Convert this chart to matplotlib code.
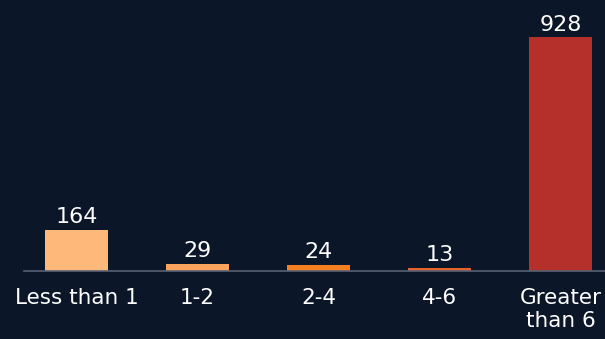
import matplotlib
matplotlib.use("Agg")
import matplotlib.pyplot as plt

# data
categories = ["Less than 1", "1-2", "2-4", "4-6", "Greater\nthan 6"]
values = [164, 29, 24, 13, 928]
colors = ["#fdb87a", "#fba35c", "#f47f20", "#e8622c", "#b5302a"]

bg = "#0b1628"

fig = plt.figure(figsize=(6.05, 3.39), dpi=100, facecolor=bg)
ax = fig.add_axes([0.0397, 0.2006, 0.9603, 0.7994])
ax.set_facecolor(bg)

x = range(len(categories))
bars = ax.bar(x, values, width=0.52, color=colors)

for xi, v in zip(x, values):
    ax.text(xi, v + 10, str(v), ha="center", va="bottom",
            color="white", fontsize=16)

ax.set_xlim(-0.434, 4.368)
ax.set_ylim(0, 1075)

ax.set_xticks(list(x))
ax.set_xticklabels(categories, color="white", fontsize=15.5, linespacing=1.2)
ax.tick_params(axis="x", length=0, pad=12)
ax.set_yticks([])

for s in ["top", "right", "left"]:
    ax.spines[s].set_visible(False)
ax.spines["bottom"].set_color("#5a6273")
ax.spines["bottom"].set_linewidth(1.2)

fig.savefig("out.png", dpi=100, facecolor=bg)
